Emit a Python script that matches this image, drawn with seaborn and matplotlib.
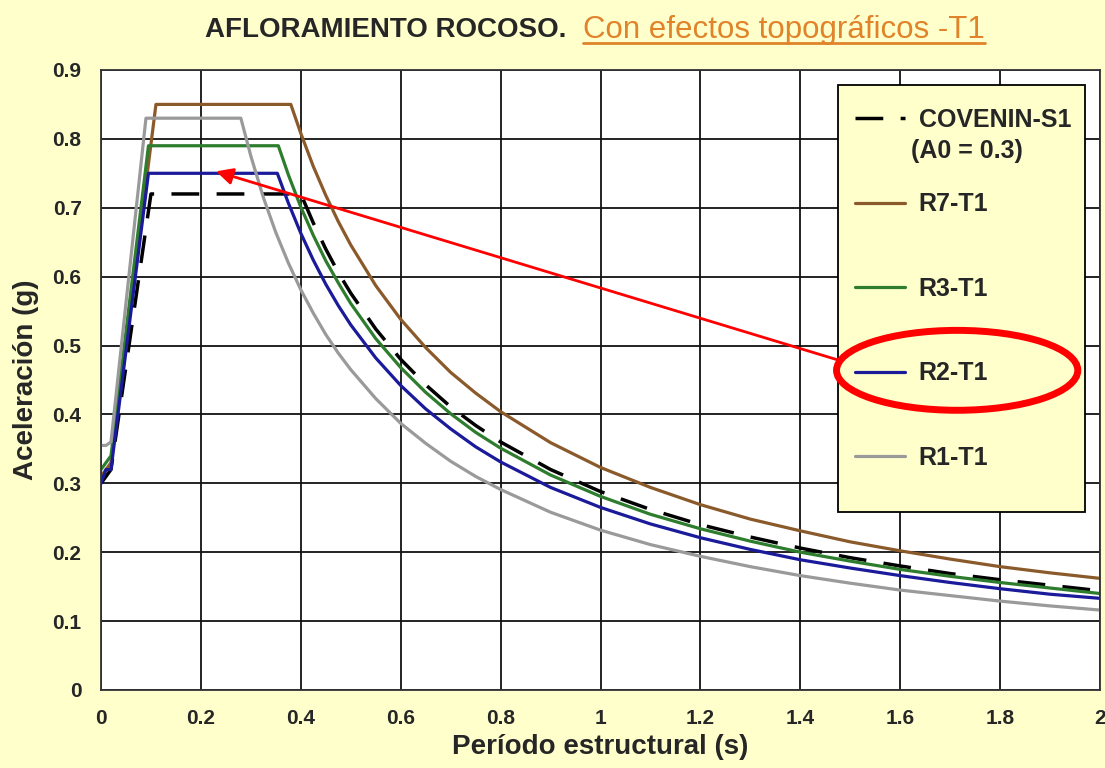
import numpy as np
import pandas as pd
import matplotlib.pyplot as plt
import seaborn as sns
from matplotlib.patches import Ellipse, Rectangle

# Readings from the chart (period in s, acceleration in g)
t_cov = [0, 0.01, 0.02, 0.1, 0.4, 0.425, 0.45, 0.475, 0.5, 0.55, 0.6, 0.65, 0.7, 0.75, 0.8, 0.9,
         1.0, 1.1, 1.2, 1.3, 1.4, 1.5, 1.6, 1.7, 1.8, 1.9, 2.0]
a_cov = [0.30, 0.31, 0.32, 0.72, 0.72, 0.678, 0.64, 0.606, 0.576, 0.524, 0.48, 0.443, 0.411, 0.384, 0.36, 0.32,
         0.288, 0.262, 0.24, 0.222, 0.206, 0.192, 0.18, 0.169, 0.16, 0.152, 0.144]

t_r7 = [0, 0.01, 0.02, 0.11, 0.38, 0.4, 0.425, 0.45, 0.475, 0.5, 0.55, 0.6, 0.65, 0.7, 0.75, 0.8, 0.9,
        1.0, 1.1, 1.2, 1.3, 1.4, 1.5, 1.6, 1.7, 1.8, 1.9, 2.0]
a_r7 = [0.31, 0.32, 0.33, 0.85, 0.85, 0.808, 0.76, 0.718, 0.68, 0.646, 0.587, 0.538, 0.497, 0.461, 0.431, 0.404, 0.359,
        0.323, 0.294, 0.269, 0.248, 0.231, 0.215, 0.202, 0.19, 0.179, 0.17, 0.162]

t_r3 = [0, 0.01, 0.02, 0.095, 0.355, 0.375, 0.4, 0.425, 0.45, 0.475, 0.5, 0.55, 0.6, 0.65, 0.7, 0.75, 0.8, 0.9,
        1.0, 1.1, 1.2, 1.3, 1.4, 1.5, 1.6, 1.7, 1.8, 1.9, 2.0]
a_r3 = [0.32, 0.33, 0.34, 0.79, 0.79, 0.748, 0.701, 0.66, 0.623, 0.591, 0.561, 0.51, 0.468, 0.432, 0.401, 0.374, 0.351, 0.312,
        0.281, 0.255, 0.234, 0.216, 0.20, 0.187, 0.175, 0.165, 0.156, 0.148, 0.140]

t_r2 = [0, 0.01, 0.02, 0.095, 0.353, 0.375, 0.4, 0.425, 0.45, 0.475, 0.5, 0.55, 0.6, 0.65, 0.7, 0.75, 0.8, 0.9,
        1.0, 1.1, 1.2, 1.3, 1.4, 1.5, 1.6, 1.7, 1.8, 1.9, 2.0]
a_r2 = [0.30, 0.32, 0.32, 0.75, 0.75, 0.707, 0.663, 0.624, 0.589, 0.558, 0.53, 0.482, 0.442, 0.408, 0.379, 0.353, 0.331, 0.294,
        0.265, 0.241, 0.221, 0.204, 0.189, 0.177, 0.166, 0.156, 0.147, 0.139, 0.133]

t_r1 = [0, 0.01, 0.02, 0.09, 0.28, 0.3, 0.325, 0.35, 0.375, 0.4, 0.425, 0.45, 0.475, 0.5, 0.55, 0.6, 0.65, 0.7, 0.75, 0.8, 0.9,
        1.0, 1.1, 1.2, 1.3, 1.4, 1.5, 1.6, 1.7, 1.8, 1.9, 2.0]
a_r1 = [0.355, 0.355, 0.36, 0.83, 0.83, 0.775, 0.715, 0.664, 0.62, 0.581, 0.547, 0.516, 0.489, 0.465, 0.423, 0.387, 0.358, 0.332, 0.31, 0.291, 0.258,
        0.232, 0.211, 0.194, 0.179, 0.166, 0.155, 0.145, 0.137, 0.129, 0.122, 0.116]

labels = ["COVENIN-S1", "R7-T1", "R3-T1", "R2-T1", "R1-T1"]
cov_note = "(A0 = 0.3)"
colors = ["black", "#8B5A2B", "#2E7D2E", "#1A1A9A", "#9A9A9A"]

bg = "#FFFFCC"
sns.set_style("white")
plt.rcParams['font.family'] = ['Liberation Sans', 'DejaVu Sans']

fig = plt.figure(figsize=(11.05, 7.68), dpi=100, facecolor=bg)
ax = fig.add_axes([0.0914, 0.1016, 0.9041, 0.8073])
ax.set_facecolor("white")

series = [(t_cov, a_cov), (t_r7, a_r7), (t_r3, a_r3), (t_r2, a_r2), (t_r1, a_r1)]
for (t, a), lab, col in zip(series, labels, colors):
    df = pd.DataFrame({"T": t, "A": a})
    sns.lineplot(data=df, x="T", y="A", ax=ax, color=col, lw=2.3, label=lab, sort=False)

# dashed code spectrum
ax.lines[0].set_linestyle((0, (8, 5)))
ax.lines[0].set_linewidth(2.5)

ax.set_xlim(0, 2)
ax.set_ylim(0, 0.9)
ax.set_xticks(np.arange(0, 2.01, 0.2))
ax.set_xticklabels(["0", "0.2", "0.4", "0.6", "0.8", "1", "1.2", "1.4", "1.6", "1.8", "2"])
ax.set_yticks(np.arange(0, 0.91, 0.1))
ax.set_yticklabels(["0", "0.1", "0.2", "0.3", "0.4", "0.5", "0.6", "0.7", "0.8", "0.9"])
ax.grid(True, color="#111111", lw=1.3)
ax.set_axisbelow(True)
for s in ax.spines.values():
    s.set_color("#333333")
    s.set_linewidth(1.3)
ax.tick_params(axis="both", length=6, width=1.2, color="#333333", labelsize=15, pad=8)
for lbl in ax.get_xticklabels() + ax.get_yticklabels():
    lbl.set_fontweight("bold")

ax.set_xlabel("Período estructural (s)", fontsize=20, fontweight="bold", labelpad=4)
ax.set_ylabel("Aceleración (g)", fontsize=20, fontweight="bold", labelpad=10)

# legend box drawn separately so its size matches
ax.add_patch(Rectangle((0.738, 0.287), 0.247, 0.689, transform=ax.transAxes, facecolor=bg,
                       edgecolor="black", lw=1.3, zorder=4))
leg = ax.legend(loc="upper left", bbox_to_anchor=(0.7548, 0.939), borderaxespad=0, borderpad=0,
                frameon=False, prop={"size": 18, "weight": "bold"},
                handlelength=2.0, labelspacing=2.42, handletextpad=0.55)
leg.set_zorder(5)

# red highlight
ax.annotate("", xy=(0.225, 0.754), xytext=(1.48, 0.478),
            arrowprops=dict(arrowstyle="-|>", color="red", lw=2, mutation_scale=25), zorder=5)
ax.add_patch(Ellipse((1.714, 0.464), 0.483, 0.116, fill=False, ec="red", lw=5, zorder=6, clip_on=False))

# title
t1 = fig.text(0.1855, 0.961, "AFLORAMIENTO ROCOSO.", fontsize=20, fontweight="bold", va="center", ha="left")
t2 = fig.text(0.5276, 0.961, "Con efectos topográficos -T1", fontsize=22.5, color="#E0832A", va="center", ha="left")
fig.canvas.draw()
bb = t2.get_window_extent().transformed(fig.transFigure.inverted())
fig.add_artist(plt.Line2D([bb.x0, bb.x1], [bb.y0 + 0.002, bb.y0 + 0.002], color="#E0832A", lw=2,
                          transform=fig.transFigure))

# second line of the first legend entry
lb = leg.get_texts()[0].get_window_extent()
fig.text((lb.x0 - 8) / fig.bbox.width, (lb.y0 + lb.y1) / 2 / fig.bbox.height - 31 / fig.bbox.height,
         cov_note, fontsize=18, fontweight="bold", va="center", ha="left", zorder=6)

fig.savefig("out.png", dpi=100, facecolor=bg)
